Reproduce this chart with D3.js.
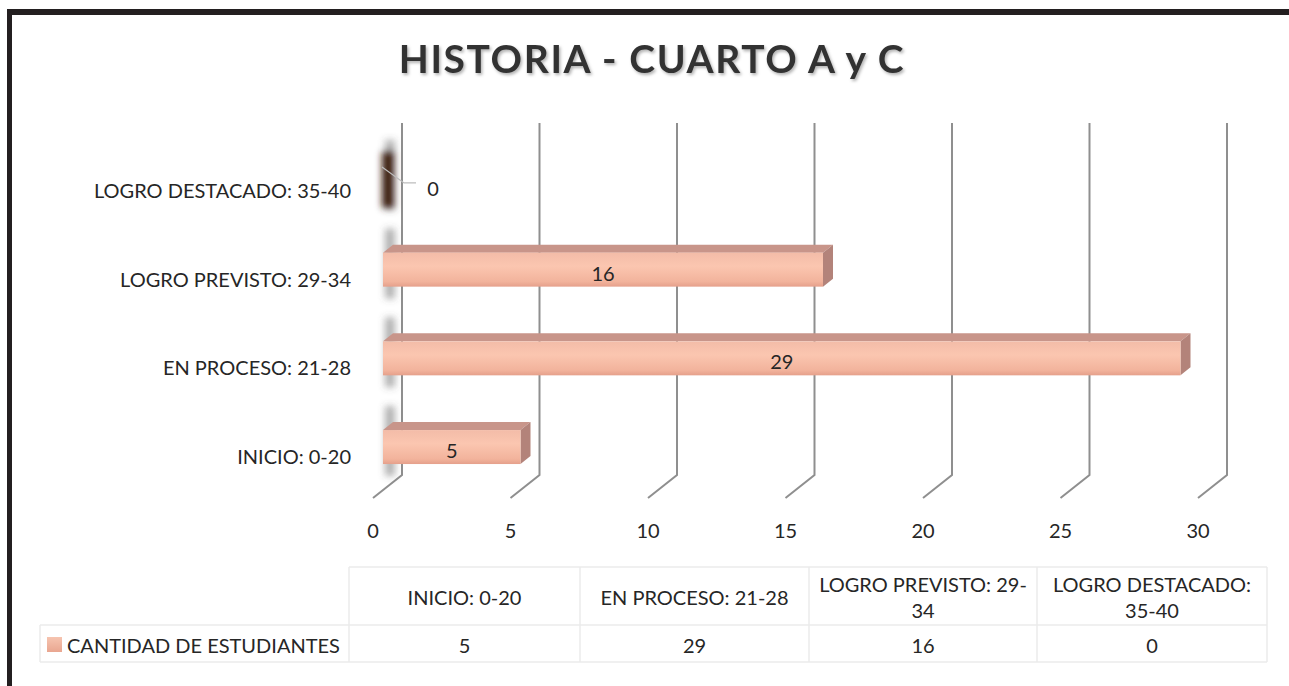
<!DOCTYPE html>
<html><head><meta charset="utf-8">
<script src="https://cdn.jsdelivr.net/npm/d3@7"></script>
<style>
html,body{margin:0;padding:0;background:#fff;}
svg{display:block;font-family:Lato,"Noto Sans",sans-serif;}
</style></head>
<body>
<svg id="c" width="1289" height="686"></svg>
<script>
const categories = ["INICIO: 0-20", "EN PROCESO: 21-28", "LOGRO PREVISTO: 29-34", "LOGRO DESTACADO: 35-40"];
const tableHeaders = [["INICIO: 0-20"], ["EN PROCESO: 21-28"], ["LOGRO PREVISTO: 29-", "34"], ["LOGRO DESTACADO:", "35-40"]];
const values = [5, 29, 16, 0];
const seriesName = "CANTIDAD DE ESTUDIANTES";
const ticks = [0, 5, 10, 15, 20, 25, 30];
const title = "HISTORIA - CUARTO A y C";

const svg = d3.select("#c");
const defs = svg.append("defs");
const g1 = defs.append("linearGradient").attr("id","front").attr("x1",0).attr("y1",0).attr("x2",0).attr("y2",1);
g1.append("stop").attr("offset","0%").attr("stop-color","#f3bca8");
g1.append("stop").attr("offset","40%").attr("stop-color","#fbc6b0");
g1.append("stop").attr("offset","85%").attr("stop-color","#f2b39c");
g1.append("stop").attr("offset","100%").attr("stop-color","#e5a08b");
defs.append("filter").attr("id","blur").attr("x","-1").attr("y","-1").attr("width","3").attr("height","3")
  .append("feGaussianBlur").attr("stdDeviation",3.5);
const ts = defs.append("filter").attr("id","tshadow").attr("x","-0.1").attr("y","-0.3").attr("width","1.2").attr("height","1.6");
ts.append("feDropShadow").attr("dx",1.5).attr("dy",2).attr("stdDeviation",1.5).attr("flood-color","#000").attr("flood-opacity",0.3);

// frame
svg.append("rect").attr("x",7).attr("y",9).attr("width",1282).attr("height",6).attr("fill","#231f20");
svg.append("rect").attr("x",7).attr("y",9).attr("width",5).attr("height",677).attr("fill","#231f20");

// title
svg.append("text").attr("x",652).attr("y",73).attr("text-anchor","middle")
  .attr("font-size",39).attr("font-weight",700).attr("letter-spacing",1.6)
  .attr("fill","#333").attr("filter","url(#tshadow)").text(title);

// scales
const xFront = d3.scaleLinear().domain([0,30]).range([373,1198]);
const depth = {dx:29, dy:-23};
const xBar = v => xFront(v) + 10;
const bd = {dx:10, dy:-8};
const order = categories.slice().reverse();
const y = d3.scaleBand().domain(order).range([136.6, 491.4]).paddingInner(0.617).paddingOuter(0.3085);
const bw = y.bandwidth();

// gridlines (back wall + floor diagonal)
const gl = svg.append("g");
ticks.forEach(t=>{
  const xb = xFront(t)+depth.dx;
  gl.append("path").attr("d",`M${xb},123 L${xb},475 L${xFront(t)},498`)
    .attr("fill","none").attr("stroke","#8f8f8f").attr("stroke-width",2);
});

// tick labels
svg.append("g").selectAll("text").data(ticks).join("text")
  .attr("x",d=>xFront(d)).attr("y",530).attr("text-anchor","middle").attr("dominant-baseline","central")
  .attr("font-size",20).attr("fill","#262626").text(d=>d);

// category labels
svg.append("g").selectAll("text").data(categories).join("text")
  .attr("x",351).attr("y",d=>y(d)+bw/2+9).attr("text-anchor","end").attr("dominant-baseline","central")
  .attr("font-size",20).attr("fill","#262626").text(d=>d);

// left wall shadows
const sh = svg.append("g").attr("filter","url(#blur)");
categories.forEach((c,i)=>{
  const top = y(c);
  sh.append("rect").attr("x",385).attr("y",top-24).attr("width",10).attr("height",bw+36)
    .attr("fill","#555").attr("opacity",0.45);
  if (values[i]===0) {
    sh.append("rect").attr("x",382).attr("y",top-12).attr("width",12).attr("height",bw+22)
      .attr("fill","#3a1f0e");
  }
});

// bars
const bars = svg.append("g");
categories.forEach((c,i)=>{
  const v = values[i]; if (v===0) return;
  const x0 = xBar(0), x1 = xBar(v), yt = y(c), yb = yt+bw;
  bars.append("path").attr("d",`M${x0},${yt} L${x1},${yt} L${x1+bd.dx},${yt+bd.dy} L${x0+bd.dx},${yt+bd.dy} Z`).attr("fill","#c8958a");
  bars.append("path").attr("d",`M${x1},${yt} L${x1+bd.dx},${yt+bd.dy} L${x1+bd.dx},${yb+bd.dy} L${x1},${yb} Z`).attr("fill","#b3837a");
  bars.append("rect").attr("x",x0).attr("y",yt).attr("width",x1-x0).attr("height",bw).attr("fill","url(#front)");
});

// data labels
categories.forEach((c,i)=>{
  const v = values[i];
  if (v===0) {
    const yc = y(c)+bw/2;
    svg.append("path").attr("d",`M${xBar(0)-1},${yc-14} L${xBar(0)+21},${yc+2} L${xBar(0)+33},${yc+2}`)
      .attr("fill","none").attr("stroke","#bdbdbd").attr("stroke-width",1.2);
    svg.append("text").attr("x",xBar(0)+50).attr("y",yc+7).attr("text-anchor","middle").attr("dominant-baseline","central")
      .attr("font-size",20).attr("fill","#262626").text(v);
  } else {
    svg.append("text").attr("x",(xBar(0)+xBar(v))/2).attr("y",y(c)+bw/2+3).attr("text-anchor","middle").attr("dominant-baseline","central")
      .attr("font-size",20).attr("fill","#262626").text(v);
  }
});

// data table
const colX = [349, 580, 809, 1037, 1267];
const tY = [567, 625, 662];
const tb = svg.append("g");
const lc = "#ebebeb";
tb.append("line").attr("x1",colX[0]).attr("x2",colX[4]).attr("y1",tY[0]).attr("y2",tY[0]).attr("stroke",lc).attr("stroke-width",1.5);
tb.append("line").attr("x1",40).attr("x2",colX[4]).attr("y1",tY[1]).attr("y2",tY[1]).attr("stroke",lc).attr("stroke-width",1.5);
tb.append("line").attr("x1",40).attr("x2",colX[4]).attr("y1",tY[2]).attr("y2",tY[2]).attr("stroke",lc).attr("stroke-width",1.5);
tb.append("line").attr("x1",40).attr("x2",40).attr("y1",tY[1]).attr("y2",tY[2]).attr("stroke",lc).attr("stroke-width",1.5);
colX.forEach(x=>tb.append("line").attr("x1",x).attr("x2",x).attr("y1",tY[0]).attr("y2",tY[2]).attr("stroke",lc).attr("stroke-width",1.5));
tableHeaders.forEach((lines,i)=>{
  const cx = (colX[i]+colX[i+1])/2;
  const mid = (tY[0]+tY[1])/2 + 1;
  lines.forEach((ln,j)=>{
    tb.append("text").attr("x",cx).attr("y",mid + (j-(lines.length-1)/2)*26).attr("text-anchor","middle")
      .attr("dominant-baseline","central").attr("font-size",20).attr("fill","#262626").text(ln);
  });
  tb.append("text").attr("x",cx).attr("y",(tY[1]+tY[2])/2+1).attr("text-anchor","middle")
    .attr("dominant-baseline","central").attr("font-size",20).attr("fill","#262626").text(values[i]);
});
const sw = defs.append("linearGradient").attr("id","sw").attr("x1",0).attr("y1",0).attr("x2",0).attr("y2",1);
sw.append("stop").attr("offset","0%").attr("stop-color","#f6c4b0");
sw.append("stop").attr("offset","100%").attr("stop-color","#e9a690");
tb.append("rect").attr("x",47).attr("y",637).attr("width",15).attr("height",15).attr("fill","url(#sw)");
tb.append("text").attr("x",67).attr("y",(tY[1]+tY[2])/2+1).attr("dominant-baseline","central")
  .attr("font-size",20).attr("fill","#262626").text(seriesName);
</script>
</body></html>
